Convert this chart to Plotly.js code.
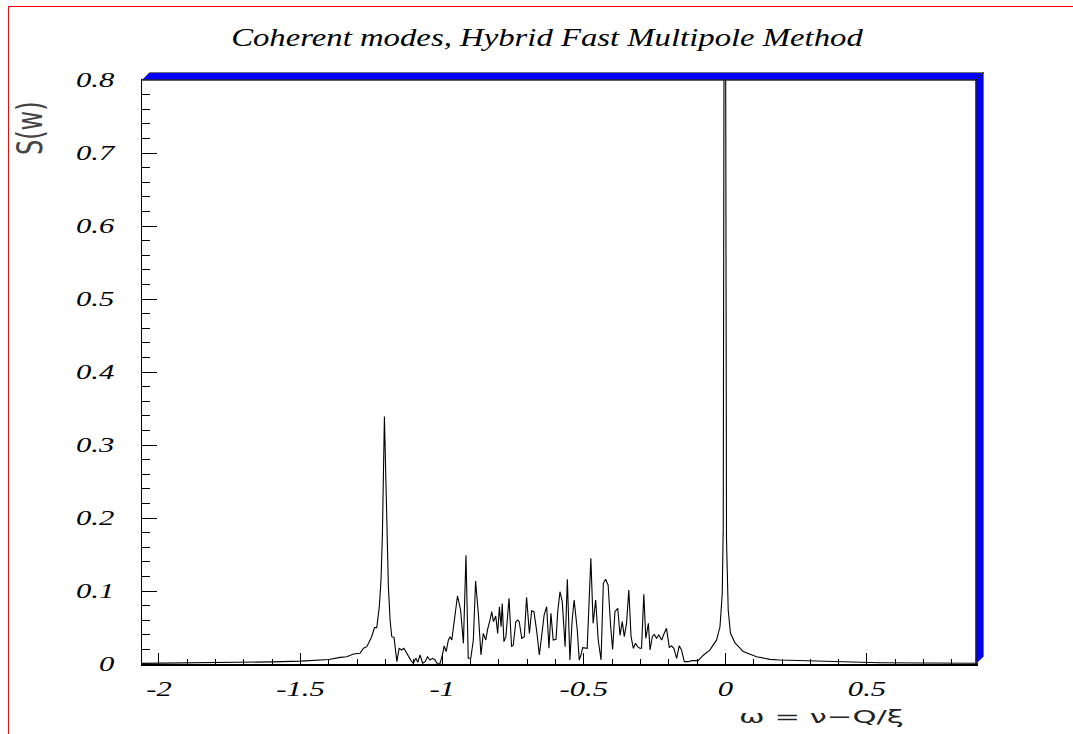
<!DOCTYPE html>
<html>
<head>
<meta charset="utf-8">
<script src="https://cdn.plot.ly/plotly-3.0.1.min.js"></script>
<style>html,body{margin:0;padding:0;background:#fff;}#chart{width:1073px;height:734px;}</style>
</head>
<body>
<div id="chart"></div>
<script>
// ---- data ----
const omega = [
 -2.06,-2.0,-1.9,-1.8,-1.7,-1.6,-1.5,-1.45,-1.4,-1.36,-1.337,-1.313,-1.29,-1.278,-1.266,-1.249,-1.239,-1.231,-1.222,-1.216,-1.211,-1.204,
 -1.196,-1.190,-1.184,-1.178,-1.170,-1.160,-1.152,-1.143,-1.135,-1.125,-1.117,-1.110,-1.102,-1.093,-1.086,-1.078,-1.069,-1.060,-1.052,
 -1.043,-1.034,-1.025,-1.019,-1.007,-0.998,-0.993,-0.986,-0.978,-0.972,-0.966,-0.960,-0.946,-0.935,-0.925,-0.916,-0.908,-0.899,-0.890,
 -0.882,-0.872,-0.863,-0.855,-0.846,-0.840,-0.831,-0.825,-0.819,-0.811,-0.804,-0.798,-0.792,-0.788,-0.782,-0.775,-0.764,-0.755,-0.749,
 -0.740,-0.733,-0.728,-0.719,-0.710,-0.702,-0.692,-0.684,-0.676,-0.666,-0.657,-0.649,-0.640,-0.631,-0.623,-0.616,-0.608,-0.598,-0.592,
 -0.584,-0.576,-0.566,-0.558,-0.549,-0.541,-0.534,-0.523,-0.516,-0.510,-0.504,-0.496,-0.488,-0.475,-0.467,-0.458,-0.449,-0.439,-0.431,
 -0.423,-0.414,-0.405,-0.398,-0.390,-0.380,-0.372,-0.364,-0.357,-0.349,-0.341,-0.333,-0.325,-0.317,-0.310,-0.302,-0.296,-0.288,-0.281,
 -0.272,-0.266,-0.258,-0.251,-0.243,-0.235,-0.225,-0.217,-0.208,-0.198,-0.190,-0.182,-0.172,-0.163,-0.155,-0.145,-0.131,-0.119,-0.108,
 -0.096,-0.078,-0.055,-0.031,-0.019,-0.011,-0.0075,-0.002,0.004,0.010,0.018,0.034,0.063,0.110,0.157,0.192,0.309,0.428,0.545,0.700,0.885
];
const S = [
 0.0008,0.001,0.0013,0.0017,0.0022,0.0029,0.0040,0.0048,0.0062,0.0091,0.0100,0.0137,0.0146,0.0215,0.0237,0.0374,0.0498,0.0498,0.0785,0.115,0.179,0.339,
 0.179,0.106,0.0603,0.0374,0.0365,0.0032,0.0215,0.0192,0.0215,0.0146,0.0100,0.0046,0.001,0.0078,0.0023,0.0123,0.001,0.0032,0.0100,
 0.0055,0.0078,0.0055,0.001,0.001,0.0146,0.0247,0.0169,0.0329,0.0374,0.0329,0.0511,0.0932,0.074,0.0283,0.149,0.0078,0.0078,0.0329,
 0.1137,0.0671,0.0123,0.042,0.0329,0.0466,0.0603,0.0717,0.058,0.0658,0.042,0.0785,0.0511,0.083,0.0306,0.0374,0.09,0.0237,0.026,
 0.058,0.0603,0.058,0.0352,0.0374,0.0913,0.042,0.073,0.0717,0.0443,0.0123,0.0374,0.0671,0.0785,0.0215,0.0694,0.0329,0.0338,0.0717,
 0.099,0.0854,0.0237,0.116,0.0055,0.0603,0.0877,0.0466,0.0055,0.0123,0.0224,0.0215,0.0215,0.1447,0.0557,0.0877,0.0329,0.0055,0.1105,
 0.116,0.1082,0.0511,0.0201,0.0717,0.0763,0.0393,0.058,0.0374,0.0557,0.1014,0.0374,0.0215,0.0283,0.0237,0.0215,0.0215,0.0954,0.0352,
 0.0557,0.0192,0.0374,0.0406,0.0352,0.0397,0.0329,0.0411,0.0489,0.0228,0.0246,0.0215,0.0078,0.0251,0.0192,0.0032,0.0032,0.0046,0.0050,
 0.0046,0.012,0.019,0.033,0.051,0.097,0.188,1.5,0.17,0.074,0.042,0.029,0.017,0.010,0.0064,0.0055,0.0041,0.0027,0.0018,0.0013,0.001
];
const xTickVals = [-2, -1.5, -1, -0.5, 0, 0.5];
const xTickText = ['-2', '-1.5', '-1', '-0.5', '0', '0.5'];
const yTickVals = [0, 0.1, 0.2, 0.3, 0.4, 0.5, 0.6, 0.7, 0.8];
const yTickText = ['0', '0.1', '0.2', '0.3', '0.4', '0.5', '0.6', '0.7', '0.8'];
const titleText = 'Coherent modes, Hybrid Fast Multipole Method';
const xTitleText = 'ω = ν−Q/ξ';
const yTitleText = 'S(w)';

// ---- geometry helpers (pixel -> paper) ----
const W = 1073, H = 734, L = 142, R = 976, T = 80, B = 664;
const px = v => (v - L) / (R - L);
const py = v => (B - v) / (B - T);
const d = 7.5;

const tickFont = {family: 'Liberation Serif, Times New Roman, serif', size: 21, color: '#000', style: 'italic'};

const layout = {
  width: W, height: H,
  margin: {l: L, r: W - R, t: T, b: H - B, pad: 0},
  paper_bgcolor: '#fff', plot_bgcolor: '#fff',
  showlegend: false,
  title: {
    text: titleText,
    font: {family: 'Liberation Serif, Times New Roman, serif', size: 25, color: '#000', style: 'italic'},
    xref: 'container', yref: 'container', x: 547 / W, y: 1 - 37 / H, xanchor: 'center', yanchor: 'middle'
  },
  xaxis: {
    range: [-2.06, 0.885], showgrid: false, zeroline: false,
    showline: true, linecolor: '#000', linewidth: 1.5, mirror: true,
    tickmode: 'array', tickvals: xTickVals, ticktext: xTickText,
    ticks: 'inside', ticklen: 11, tickwidth: 1, tickcolor: '#000',
    minor: {tickmode: 'linear', tick0: 0, dtick: 0.1, ticks: 'inside', ticklen: 5, tickwidth: 1, tickcolor: '#000', showgrid: false},
    tickfont: tickFont, ticklabelstandoff: 5, automargin: false
  },
  yaxis: {
    range: [0, 0.8], showgrid: false, zeroline: false,
    showline: true, linecolor: '#000', linewidth: 1.5, mirror: true,
    tickmode: 'array', tickvals: yTickVals, ticktext: yTickText,
    ticks: 'inside', ticklen: 15, tickwidth: 1, tickcolor: '#000',
    minor: {tickmode: 'linear', tick0: 0, dtick: 0.02, ticks: 'inside', ticklen: 8, tickwidth: 1, tickcolor: '#000', showgrid: false},
    tickfont: tickFont, ticklabelstandoff: 22, automargin: false
  },
  annotations: [
    {text: xTitleText, xref: 'paper', yref: 'paper', x: px(821), y: py(716), xanchor: 'center', yanchor: 'middle',
     showarrow: false, font: {family: 'DejaVu Sans, sans-serif', size: 18, color: '#222'}},
    {text: yTitleText, xref: 'paper', yref: 'paper', x: px(30), y: py(128), xanchor: 'center', yanchor: 'middle',
     textangle: -90, showarrow: false, font: {family: 'DejaVu Sans, sans-serif', size: 24, color: '#444'}}
  ],
  shapes: [
    // red canvas frame
    {type: 'line', xref: 'paper', yref: 'paper', x0: px(8.5), y0: py(6.5), x1: px(1100), y1: py(6.5), line: {color: '#ff0000', width: 1}},
    {type: 'line', xref: 'paper', yref: 'paper', x0: px(8.5), y0: py(6.5), x1: px(8.5), y1: py(760), line: {color: '#ff0000', width: 1}},
    // blue 3D frame, top
    {type: 'path', xref: 'paper', yref: 'paper',
     path: `M ${px(L)} ${py(T)} L ${px(R)} ${py(T)} L ${px(R + d)} ${py(T - d)} L ${px(L + d)} ${py(T - d)} Z`,
     fillcolor: '#0000ff', line: {color: '#777', width: 1}},
    // blue 3D frame, right
    {type: 'path', xref: 'paper', yref: 'paper',
     path: `M ${px(R)} ${py(T)} L ${px(R + d)} ${py(T - d)} L ${px(R + d)} ${py(B - d)} L ${px(R)} ${py(B)} Z`,
     fillcolor: '#0000ff', line: {color: '#777', width: 1}},
    {type: 'line', xref: 'paper', yref: 'paper', x0: px(L), y0: py(T), x1: px(R), y1: py(T), line: {color: '#000', width: 1.2}},
    {type: 'line', xref: 'paper', yref: 'paper', x0: px(R), y0: py(T), x1: px(R), y1: py(B), line: {color: '#000', width: 1.2}},
    {type: 'line', xref: 'paper', yref: 'paper', x0: px(R), y0: py(T), x1: px(R + d), y1: py(T - d), line: {color: '#000', width: 1}}
  ]
};

const trace = {
  x: omega, y: S, type: 'scatter', mode: 'lines',
  line: {color: '#000', width: 1.1}, hoverinfo: 'skip'
};

function stretch(sel, sx, sy, cyOff) {
  document.querySelectorAll(sel).forEach(el => {
    const x = parseFloat(el.getAttribute('x')) || 0;
    const y = (parseFloat(el.getAttribute('y')) || 0) - (cyOff || 0);
    const t = el.getAttribute('transform') || '';
    el.setAttribute('transform', `${t} translate(${x},${y}) scale(${sx},${sy}) translate(${-x},${-y})`);
  });
}

Plotly.newPlot('chart', [trace], layout, {staticPlot: true, displayModeBar: false}).then(() => {
  stretch('.gtitle', 1.31, 1, 0);
  stretch('.xtick text', 1.46, 1, 0);
  stretch('.ytick text', 1.46, 1, 0);
  const ann = document.querySelectorAll('.annotation-text');
  if (ann[0]) { const x = parseFloat(ann[0].getAttribute('x')) || 0; const y = parseFloat(ann[0].getAttribute('y')) || 0;
    ann[0].setAttribute('transform', `${ann[0].getAttribute('transform') || ''} translate(${x},${y}) scale(1.7,1) translate(${-x},${-y})`); }
  if (ann[1]) { const x = parseFloat(ann[1].getAttribute('x')) || 0; const y = (parseFloat(ann[1].getAttribute('y')) || 0) - 8;
    ann[1].setAttribute('transform', `${ann[1].getAttribute('transform') || ''} translate(${x},${y}) scale(1,1.5) translate(${-x},${-y})`); }
});
</script>
</body>
</html>
